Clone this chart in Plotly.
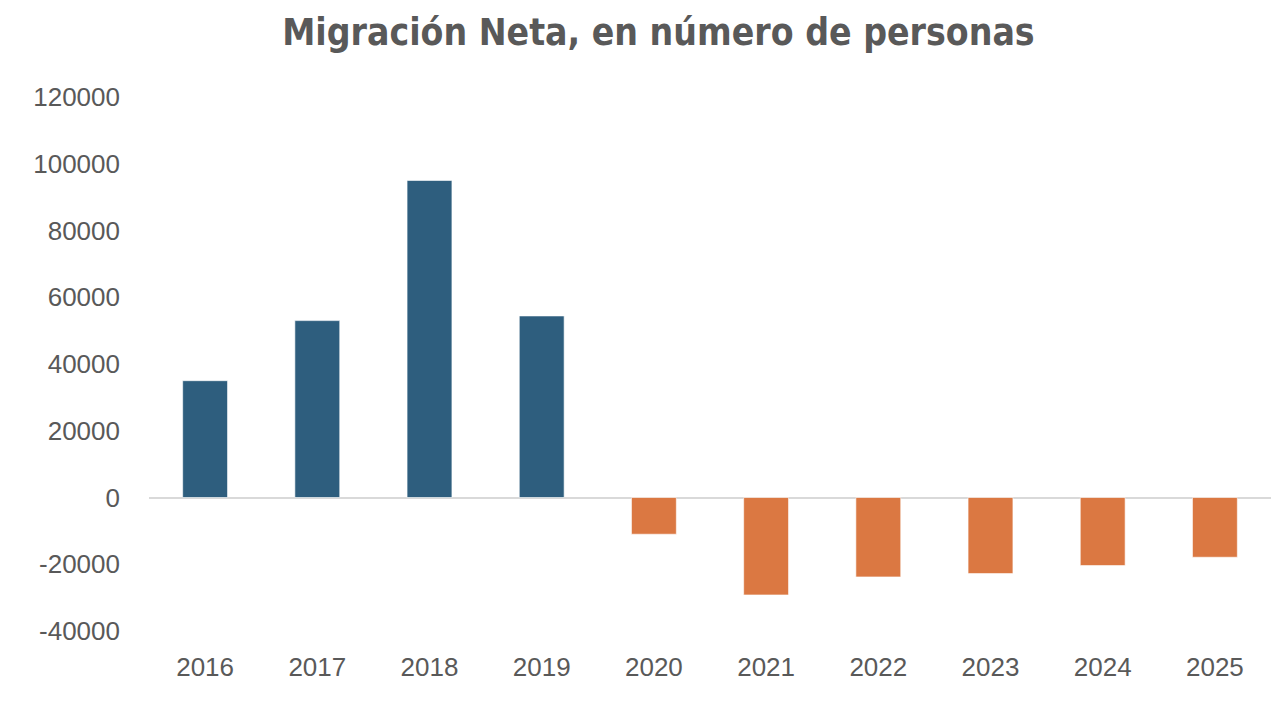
import plotly.graph_objects as go

# Datos
years = ['2016', '2017', '2018', '2019', '2020', '2021', '2022', '2023', '2024', '2025']
net_migration = [35000, 53000, 95000, 54400, -11000, -29200, -23800, -22800, -20400, -17900]

BLUE = '#2E5E7E'
ORANGE = '#DB7842'
TEXT = '#595959'

colors = [BLUE if v >= 0 else ORANGE for v in net_migration]

fig = go.Figure()

fig.add_trace(go.Bar(
    x=years,
    y=net_migration,
    marker=dict(color=colors, line=dict(color='rgba(255,255,255,0.6)', width=1)),
    width=0.4,
    hoverinfo='x+y',
))

fig.update_layout(
    title=dict(
        text='<b>Migración Neta, en número de personas</b>',
        font=dict(family='Liberation Sans Narrow, DejaVu Sans Condensed, Arial Narrow, sans-serif',
                  size=37, color=TEXT),
        x=0.505, xanchor='center',
        y=0.966, yanchor='middle',
    ),
    width=1288,
    height=704,
    margin=dict(l=141, r=25, t=89, b=81),
    paper_bgcolor='white',
    plot_bgcolor='white',
    showlegend=False,
    font=dict(family='Liberation Sans, Arial, sans-serif', size=26, color=TEXT),
)

fig.update_xaxes(
    type='category',
    showgrid=False,
    showline=False,
    ticks='',
    ticklabelstandoff=18,
    tickfont=dict(size=26, color=TEXT),
)

fig.update_yaxes(
    range=[-40000, 120000],
    tickvals=[-40000, -20000, 0, 20000, 40000, 60000, 80000, 100000, 120000],
    ticktext=['-40000', '-20000', '0', '20000', '40000', '60000', '80000', '100000', '120000'],
    showgrid=False,
    showline=False,
    zeroline=True,
    zerolinecolor='#D9D9D9',
    zerolinewidth=2,
    ticks='',
    ticklabelstandoff=28,
    tickfont=dict(size=26, color=TEXT),
)

fig.write_html('out.html')
